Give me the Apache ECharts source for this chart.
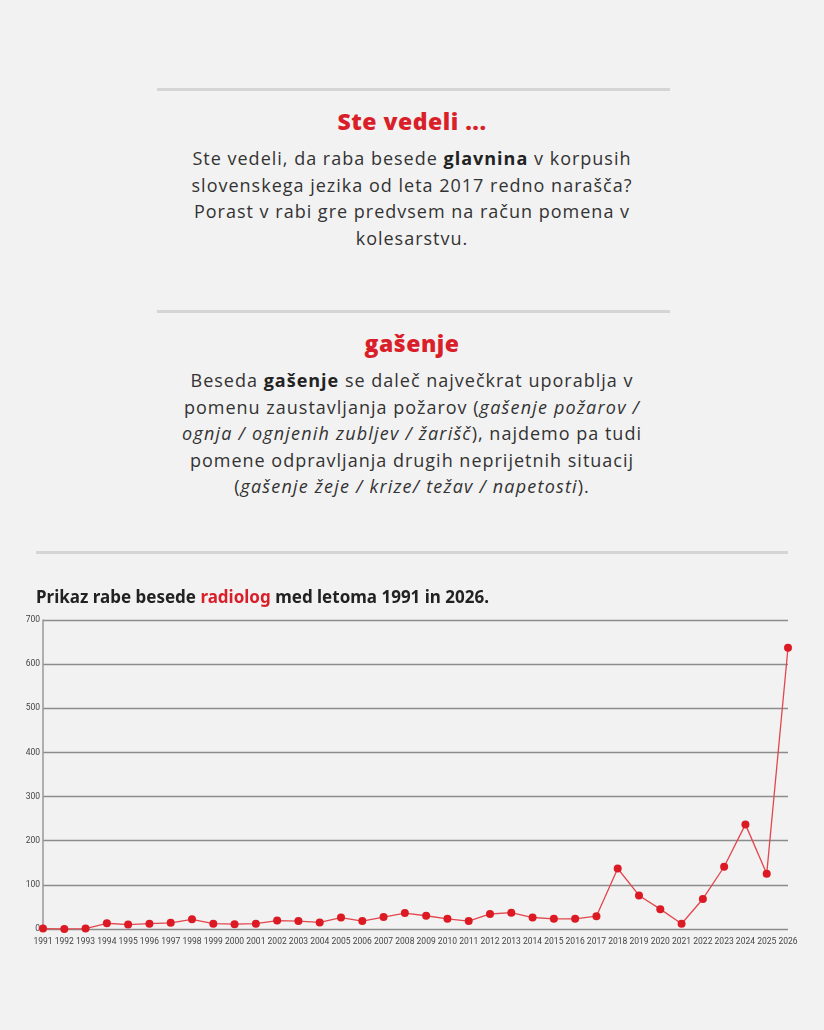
<!DOCTYPE html>
<html>
<head>
<meta charset="utf-8">
<script src="https://cdn.jsdelivr.net/npm/echarts@6/dist/echarts.min.js"></script>
<style>
  html, body { margin:0; padding:0; background:#f2f2f2; width:824px; height:1030px; overflow:hidden; }
  body { position:relative; font-family:"Open Sans","Noto Sans",sans-serif; color:#333; }
  .rule { position:absolute; height:3px; background:#d5d5d5; }
  .box { position:absolute; left:100px; width:624px; text-align:center; white-space:nowrap; }
  .h { color:#d91f2a; font-weight:800; font-size:23px; letter-spacing:0.5px; font-family:"Open Sans","Noto Sans",sans-serif; }
  .p { font-size:18px; line-height:26.5px; color:#333; letter-spacing:1px; }
  .p i { letter-spacing:1.2px; }
  .p b { color:#222; }
  #chart { position:absolute; left:0; top:570px; width:824px; height:400px; }
</style>
</head>
<body>
<div class="rule" style="left:157px;width:513px;top:88px;"></div>
<div class="box" style="top:105px;">
  <div class="h">Ste vedeli ...</div>
  <div class="p" style="margin-top:8px;">Ste vedeli, da raba besede <b>glavnina</b> v korpusih<br>slovenskega jezika od leta 2017 redno narašča?<br>Porast v rabi gre predvsem na račun pomena v<br>kolesarstvu.</div>
</div>
<div class="rule" style="left:157px;width:513px;top:310px;"></div>
<div class="box" style="top:327px;">
  <div class="h">gašenje</div>
  <div class="p" style="margin-top:8px;">Beseda <b>gašenje</b> se daleč največkrat uporablja v<br>pomenu zaustavljanja požarov (<i>gašenje požarov /</i><br><i>ognja / ognjenih zubljev / žarišč</i>), najdemo pa tudi<br>pomene odpravljanja drugih neprijetnih situacij<br>(<i>gašenje žeje / krize/ težav / napetosti</i>).</div>
</div>
<div class="rule" style="left:36px;width:752px;top:551px;"></div>
<div id="chart"></div>
<script>
const years = ['1991','1992','1993','1994','1995','1996','1997','1998','1999','2000','2001','2002','2003','2004','2005','2006','2007','2008','2009','2010','2011','2012','2013','2014','2015','2016','2017','2018','2019','2020','2021','2022','2023','2024','2025','2026'];
const counts = [1,0,1,13,10,12,14,22,12,11,12,19,18,15,26,18,27,36,30,23,18,34,37,26,23,23,29,137,76,45,12,68,141,237,125,637];
const yTicks = [0,100,200,300,400,500,600,700];

const chart = echarts.init(document.getElementById('chart'));
chart.setOption({
  backgroundColor: 'transparent',
  title: {
    left: 31, top: 15,
    text: '{a|Prikaz rabe besede }{r|radiolog}{a| med letoma 1991 in 2026.}',
    textStyle: {
      rich: {
        a: { fontSize: 17, fontWeight: 'bold', color: '#222', fontFamily: 'Noto Sans' },
        r: { fontSize: 17, fontWeight: 'bold', color: '#d91f2a', fontFamily: 'Noto Sans' }
      }
    }
  },
  grid: { left: 43, right: 36, top: 50, bottom: 41, containLabel: false },
  xAxis: {
    type: 'category', data: years, boundaryGap: false,
    axisLine: { show: false }, axisTick: { show: false },
    axisLabel: { fontSize: 8.5, color: '#444', margin: 8, interval: 0, fontFamily: 'Liberation Sans Narrow, Roboto, sans-serif' }
  },
  yAxis: {
    type: 'value', min: yTicks[0], max: yTicks[yTicks.length-1], interval: 100,
    axisLine: { show: true, lineStyle: { color: '#999', width: 1.5 } },
    axisTick: { show: false },
    axisLabel: { fontSize: 8.5, color: '#444', margin: 3, fontFamily: 'Liberation Sans Narrow, Roboto, sans-serif' },
    splitLine: { lineStyle: { color: '#8c8c8c', width: 1.3 } }
  },
  series: [{
    type: 'line', data: counts,
    symbol: 'circle', symbolSize: 8,
    itemStyle: { color: '#dc1a24' },
    lineStyle: { color: '#e3464d', width: 1.3 },
    animation: false
  }]
});
</script>
</body>
</html>
